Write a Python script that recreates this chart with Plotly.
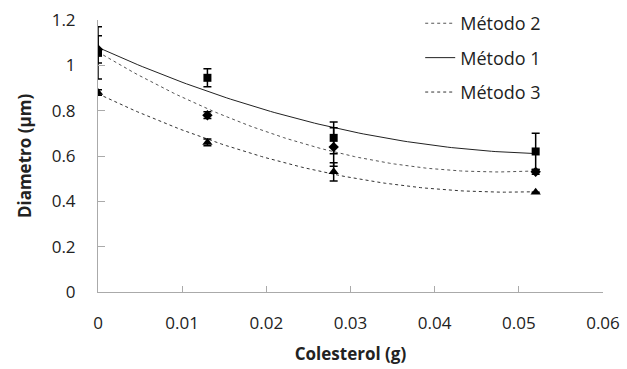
import numpy as np
import plotly.graph_objects as go

colesterol = [0, 0.013, 0.028, 0.052]
metodo1 = [1.055, 0.945, 0.68, 0.62]
err1 = [0.115, 0.04, 0.07, 0.08]
metodo2 = [1.07, 0.78, 0.64, 0.53]
err2 = [0.06, 0.015, 0.085, 0.01]
metodo3 = [0.88, 0.66, 0.53, 0.44]
err3 = [0.012, 0.015, 0.04, 0.0]

xticks = [0, 0.01, 0.02, 0.03, 0.04, 0.05, 0.06]
yticks = [0, 0.2, 0.4, 0.6, 0.8, 1.0, 1.2]
xtick_text = ["0", "0.01", "0.02", "0.03", "0.04", "0.05", "0.06"]
ytick_text = ["0", "0.2", "0.4", "0.6", "0.8", "1", "1.2"]

FONT = "Open Sans"
fig = go.Figure()

xs = np.linspace(min(colesterol), max(colesterol), 100)

def trend(y):
    c = np.polyfit(colesterol, y, 2)
    return np.polyval(c, xs)

# trendlines (legend order: Método 2, Método 1, Método 3)
fig.add_trace(go.Scatter(x=xs, y=trend(metodo2), mode="lines", name="Método 2",
                         line=dict(color="#555555", width=1, dash="dot"), legendgroup="a"))
fig.add_trace(go.Scatter(x=xs, y=trend(metodo1), mode="lines", name="Método 1",
                         line=dict(color="#222222", width=1), legendgroup="b"))
fig.add_trace(go.Scatter(x=xs, y=trend(metodo3), mode="lines", name="Método 3",
                         line=dict(color="#333333", width=1, dash="3px,3px"), legendgroup="c"))

# data points with error bars
for y, e, sym, sz in [(metodo1, err1, "square", 8), (metodo2, err2, "diamond", 8), (metodo3, err3, "triangle-up", 9)]:
    fig.add_trace(go.Scatter(x=colesterol, y=y, mode="markers", showlegend=False,
                             marker=dict(symbol=sym, size=sz, color="black"),
                             error_y=dict(type="data", array=e, visible=True, color="black",
                                          thickness=1.5, width=4)))

fig.update_layout(
    width=627, height=369,
    margin=dict(l=98, r=24, t=20, b=77, autoexpand=False),
    paper_bgcolor="white", plot_bgcolor="white",
    font=dict(family=FONT, size=17, color="#222"),
    legend=dict(x=0.638, y=1.055, xanchor="left", yanchor="top", bgcolor="rgba(0,0,0,0)",
                font=dict(family=FONT, size=18, color="#222"), tracegroupgap=8,
                traceorder="grouped"),
    xaxis=dict(range=[0, 0.06], tickvals=xticks, ticktext=xtick_text, showgrid=False,
               zeroline=False, showline=True, linecolor="#aaaaaa", linewidth=1,
               ticks="inside", ticklen=6, tickcolor="#aaaaaa",
               ticklabelstandoff=16, tickfont=dict(size=17),
               title=dict(text="<b>Colesterol (g)</b>", font=dict(size=17), standoff=14)),
    yaxis=dict(range=[0, 1.2], tickvals=yticks, ticktext=ytick_text, showgrid=False,
               zeroline=False, showline=True, linecolor="#aaaaaa", linewidth=1,
               ticks="inside", ticklen=7, tickcolor="#aaaaaa",
               ticklabelstandoff=18, tickfont=dict(size=17),
               title=dict(text="<b>Diametro (µm)</b>", font=dict(size=17), standoff=15)),
)

fig.write_html("out.html")
